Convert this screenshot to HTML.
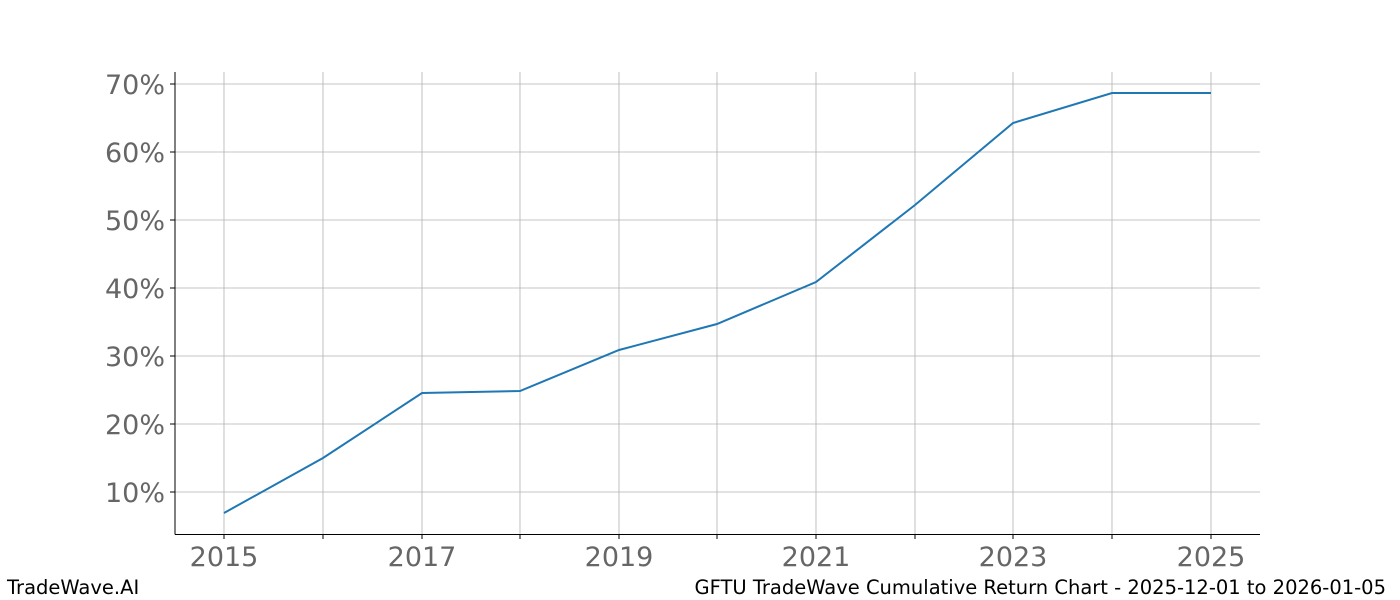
<!DOCTYPE html>
<html><head><style>body{margin:0;background:#fff}svg{display:block}</style></head><body>
<svg width="1400" height="600" xmlns="http://www.w3.org/2000/svg" font-family="DejaVu Sans, Liberation Sans, sans-serif">
<g stroke="#b0b0b0" stroke-width="0.8">
<line x1="224" y1="72" x2="224" y2="534"/><line x1="323" y1="72" x2="323" y2="534"/><line x1="422" y1="72" x2="422" y2="534"/><line x1="520" y1="72" x2="520" y2="534"/><line x1="619" y1="72" x2="619" y2="534"/><line x1="717" y1="72" x2="717" y2="534"/><line x1="816" y1="72" x2="816" y2="534"/><line x1="915" y1="72" x2="915" y2="534"/><line x1="1013" y1="72" x2="1013" y2="534"/><line x1="1112" y1="72" x2="1112" y2="534"/><line x1="1211" y1="72" x2="1211" y2="534"/>
<line x1="175" y1="84" x2="1260" y2="84"/><line x1="175" y1="152" x2="1260" y2="152"/><line x1="175" y1="220" x2="1260" y2="220"/><line x1="175" y1="288" x2="1260" y2="288"/><line x1="175" y1="356" x2="1260" y2="356"/><line x1="175" y1="424" x2="1260" y2="424"/><line x1="175" y1="492" x2="1260" y2="492"/>
</g>
<g stroke="#000" stroke-width="1">
<line x1="175" y1="72" x2="175" y2="534.5"/><line x1="175" y1="534.5" x2="1260" y2="534.5"/>
<line x1="224" y1="534" x2="224" y2="539"/><line x1="323" y1="534" x2="323" y2="539"/><line x1="422" y1="534" x2="422" y2="539"/><line x1="520" y1="534" x2="520" y2="539"/><line x1="619" y1="534" x2="619" y2="539"/><line x1="717" y1="534" x2="717" y2="539"/><line x1="816" y1="534" x2="816" y2="539"/><line x1="915" y1="534" x2="915" y2="539"/><line x1="1013" y1="534" x2="1013" y2="539"/><line x1="1112" y1="534" x2="1112" y2="539"/><line x1="1211" y1="534" x2="1211" y2="539"/>
<line x1="170" y1="84" x2="175" y2="84"/><line x1="170" y1="152" x2="175" y2="152"/><line x1="170" y1="220" x2="175" y2="220"/><line x1="170" y1="288" x2="175" y2="288"/><line x1="170" y1="356" x2="175" y2="356"/><line x1="170" y1="424" x2="175" y2="424"/><line x1="170" y1="492" x2="175" y2="492"/>
</g>
<polyline fill="none" stroke="#1f77b4" stroke-width="2" points="224,513 323,458 422,393 520,391 619,350 717,324 816,282 915,205 1013,123 1112,93 1211,93"/>
<g fill="#666" font-size="27" text-anchor="end">
<text x="165" y="94">70%</text><text x="165" y="162">60%</text><text x="165" y="230">50%</text><text x="165" y="298">40%</text><text x="165" y="366">30%</text><text x="165" y="434">20%</text><text x="165" y="502">10%</text>
</g>
<g fill="#666" font-size="27" text-anchor="middle">
<text x="224" y="566">2015</text><text x="422" y="566">2017</text><text x="619" y="566">2019</text><text x="816" y="566">2021</text><text x="1013" y="566">2023</text><text x="1211" y="566">2025</text>
</g>
<text x="7" y="594" font-size="19.5" fill="#000">TradeWave.AI</text>
<text x="1386" y="594" font-size="19.5" fill="#000" text-anchor="end">GFTU TradeWave Cumulative Return Chart - 2025-12-01 to 2026-01-05</text>
</svg>
</body></html>
